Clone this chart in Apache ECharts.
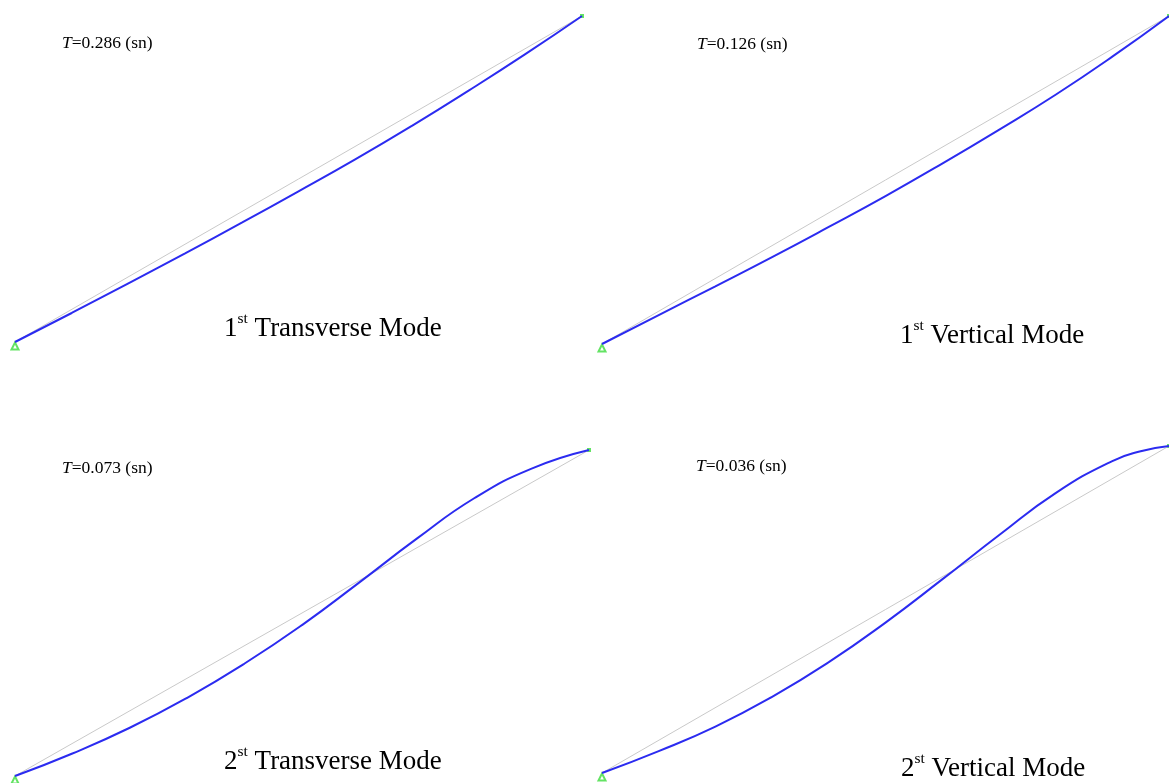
<!DOCTYPE html>
<html>
<head>
<meta charset="utf-8">
<script src="https://cdn.jsdelivr.net/npm/echarts@6/dist/echarts.min.js"></script>
<style>
  html, body { margin: 0; padding: 0; background: #fff; }
  #main { width: 1169px; height: 783px; }
</style>
</head>
<body>
<div id="main"></div>
<script>
// position along the span (% of horizontal projection)
var spanPos = [0, 10, 20, 30, 40, 50, 60, 70, 80, 90, 100];
var spanPos4 = [0, 10, 20, 30, 40, 50, 60, 70, 80, 90, 95, 100];

// deformed shapes (% of rise)
var mode1T = [0, 8.9, 18.0, 27.2, 36.6, 46.2, 56.0, 66.3, 77.1, 88.3, 100];
var mode1V = [0, 8.8, 17.6, 26.5, 35.7, 45.1, 55.0, 65.3, 76.0, 87.6, 100];
var mode2T = [0, 6.9, 14.8, 24.0, 34.5, 46.3, 59.4, 72.8, 85.2, 94.3, 100];
var mode2V = [0, 6.7, 14.2, 23.3, 33.9, 46.0, 59.2, 72.7, 85.6, 95.4, 98.4, 100];

var periods = ['0.286', '0.126', '0.073', '0.036'];
var ordinals = ['1', '1', '2', '2'];
var modeNames = ['Transverse Mode', 'Vertical Mode', 'Transverse Mode', 'Vertical Mode'];

var chart = echarts.init(document.getElementById('main'));

var grids = [
  { left: 15, top: 16, width: 567, height: 326 },
  { left: 602, top: 16, width: 572, height: 328 },
  { left: 15, top: 450, width: 574, height: 326 },
  { left: 602, top: 446, width: 580, height: 327 }
];
var shapes = [
  [spanPos, mode1T], [spanPos, mode1V], [spanPos, mode2T], [spanPos4, mode2V]
];
var periodPos = [[62, 44], [697, 45], [62, 469], [696, 467]];
var namePos = [[224, 327], [900, 334], [224, 760], [901, 767]];

function zip(xs, ys) {
  return xs.map(function (x, i) { return [x, ys[i]]; });
}

var xAxes = [], yAxes = [], series = [], graphics = [];
grids.forEach(function (g, i) {
  xAxes.push({ gridIndex: i, type: 'value', min: 0, max: 100, show: false });
  yAxes.push({ gridIndex: i, type: 'value', min: 0, max: 100, show: false });
  // undeformed chord
  series.push({
    type: 'line', xAxisIndex: i, yAxisIndex: i, data: [[0, 0], [100, 100]],
    symbol: 'none', silent: true,
    lineStyle: { color: '#c9c9c9', width: 1 }
  });
  // mode shape
  series.push({
    type: 'line', xAxisIndex: i, yAxisIndex: i,
    data: zip(shapes[i][0], shapes[i][1]),
    smooth: 0.5, symbol: 'none', silent: true,
    lineStyle: { color: '#2b2bf0', width: 2 }
  });
  // supports
  series.push({
    type: 'scatter', xAxisIndex: i, yAxisIndex: i, data: [[0, 0]],
    symbol: 'emptyTriangle', symbolSize: 7, symbolOffset: [0, 4], silent: true,
    itemStyle: { color: '#3ddc3d', borderColor: '#3ddc3d', borderWidth: 1 }
  });
  series.push({
    type: 'scatter', xAxisIndex: i, yAxisIndex: i, data: [[100, 100]],
    symbol: 'rect', symbolSize: 4, silent: true,
    itemStyle: { color: '#3ddc3d' }
  });

  graphics.push({
    type: 'text', left: periodPos[i][0], top: periodPos[i][1] - 10,
    style: {
      text: '{t|T}{n|=' + periods[i] + ' (sn)}',
      rich: {
        t: { fontFamily: 'Liberation Serif', fontSize: 17.5, fontStyle: 'italic', fill: '#000' },
        n: { fontFamily: 'Liberation Serif', fontSize: 17.5, fill: '#000' }
      }
    }
  });
  graphics.push({
    type: 'text', left: namePos[i][0], top: namePos[i][1] - 16,
    style: {
      text: '{a|' + ordinals[i] + '}{s|st}{a| ' + modeNames[i] + '}',
      rich: {
        a: { fontFamily: 'Liberation Serif', fontSize: 27, fill: '#000', lineHeight: 31, verticalAlign: 'bottom' },
        s: { fontFamily: 'Liberation Serif', fontSize: 15.5, fill: '#000', lineHeight: 31, verticalAlign: 'top', padding: [0, 0, 12, 0] }
      }
    }
  });
});

var option = {
  backgroundColor: '#ffffff',
  animation: false,
  grid: grids,
  xAxis: xAxes,
  yAxis: yAxes,
  series: series,
  graphic: graphics
};
chart.setOption(option);
</script>
</body>
</html>
